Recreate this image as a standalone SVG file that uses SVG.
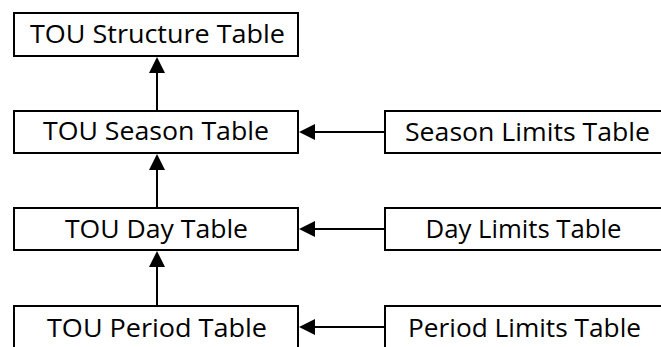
<svg xmlns="http://www.w3.org/2000/svg" width="661" height="347" viewBox="0 0 661 347">
  <defs>
    <style>
      .box { fill: #ffffff; stroke: #000000; stroke-width: 2; }
      .lbl { font-family: "Open Sans", "Noto Sans", sans-serif; font-size: 25px; fill: #000000; text-anchor: middle; }
      .wire { stroke: #000000; stroke-width: 2; fill: none; }
      .head { fill: #000000; }
    </style>
  </defs>
  <rect width="661" height="347" fill="#ffffff"/>

  <!-- connectors -->
  <g id="connectors">
    <!-- vertical links between the TOU tables -->
    <line class="wire" x1="157" y1="111" x2="157" y2="70"/>
    <polygon class="head" points="157,57 149,73 165,73"/>
    <line class="wire" x1="157" y1="208" x2="157" y2="167"/>
    <polygon class="head" points="157,154 149,170 165,170"/>
    <line class="wire" x1="157" y1="306" x2="157" y2="265"/>
    <polygon class="head" points="157,251 149,267 165,267"/>
    <!-- limits tables feeding the TOU tables -->
    <line class="wire" x1="385" y1="132" x2="312" y2="132"/>
    <polygon class="head" points="299,132 315,124 315,140"/>
    <line class="wire" x1="385" y1="229" x2="312" y2="229"/>
    <polygon class="head" points="299,229 315,221 315,237"/>
    <line class="wire" x1="385" y1="327" x2="312" y2="327"/>
    <polygon class="head" points="299,327 315,319 315,335"/>
  </g>

  <g id="tou-structure">
    <rect class="box" x="14" y="13" width="284" height="43"/>
    <text class="lbl" x="157.5" y="43" textLength="255" lengthAdjust="spacingAndGlyphs">TOU Structure Table</text>
  </g>
  <g id="tou-season">
    <rect class="box" x="14" y="111" width="284" height="42"/>
    <text class="lbl" x="156" y="140" textLength="226" lengthAdjust="spacingAndGlyphs">TOU Season Table</text>
  </g>
  <g id="tou-day">
    <rect class="box" x="14" y="208" width="284" height="42"/>
    <text class="lbl" x="156.5" y="238" textLength="183" lengthAdjust="spacingAndGlyphs">TOU Day Table</text>
  </g>
  <g id="tou-period">
    <rect class="box" x="14" y="306" width="284" height="43"/>
    <text class="lbl" x="157" y="337" textLength="220" lengthAdjust="spacingAndGlyphs">TOU Period Table</text>
  </g>
  <g id="season-limits">
    <rect class="box" x="385" y="111" width="280" height="42"/>
    <text class="lbl" x="527.5" y="141" textLength="245" lengthAdjust="spacingAndGlyphs">Season Limits Table</text>
  </g>
  <g id="day-limits">
    <rect class="box" x="385" y="208" width="280" height="42"/>
    <text class="lbl" x="523.5" y="238" textLength="196" lengthAdjust="spacingAndGlyphs">Day Limits Table</text>
  </g>
  <g id="period-limits">
    <rect class="box" x="385" y="306" width="280" height="43"/>
    <text class="lbl" x="524.5" y="337" textLength="233" lengthAdjust="spacingAndGlyphs">Period Limits Table</text>
  </g>
</svg>
